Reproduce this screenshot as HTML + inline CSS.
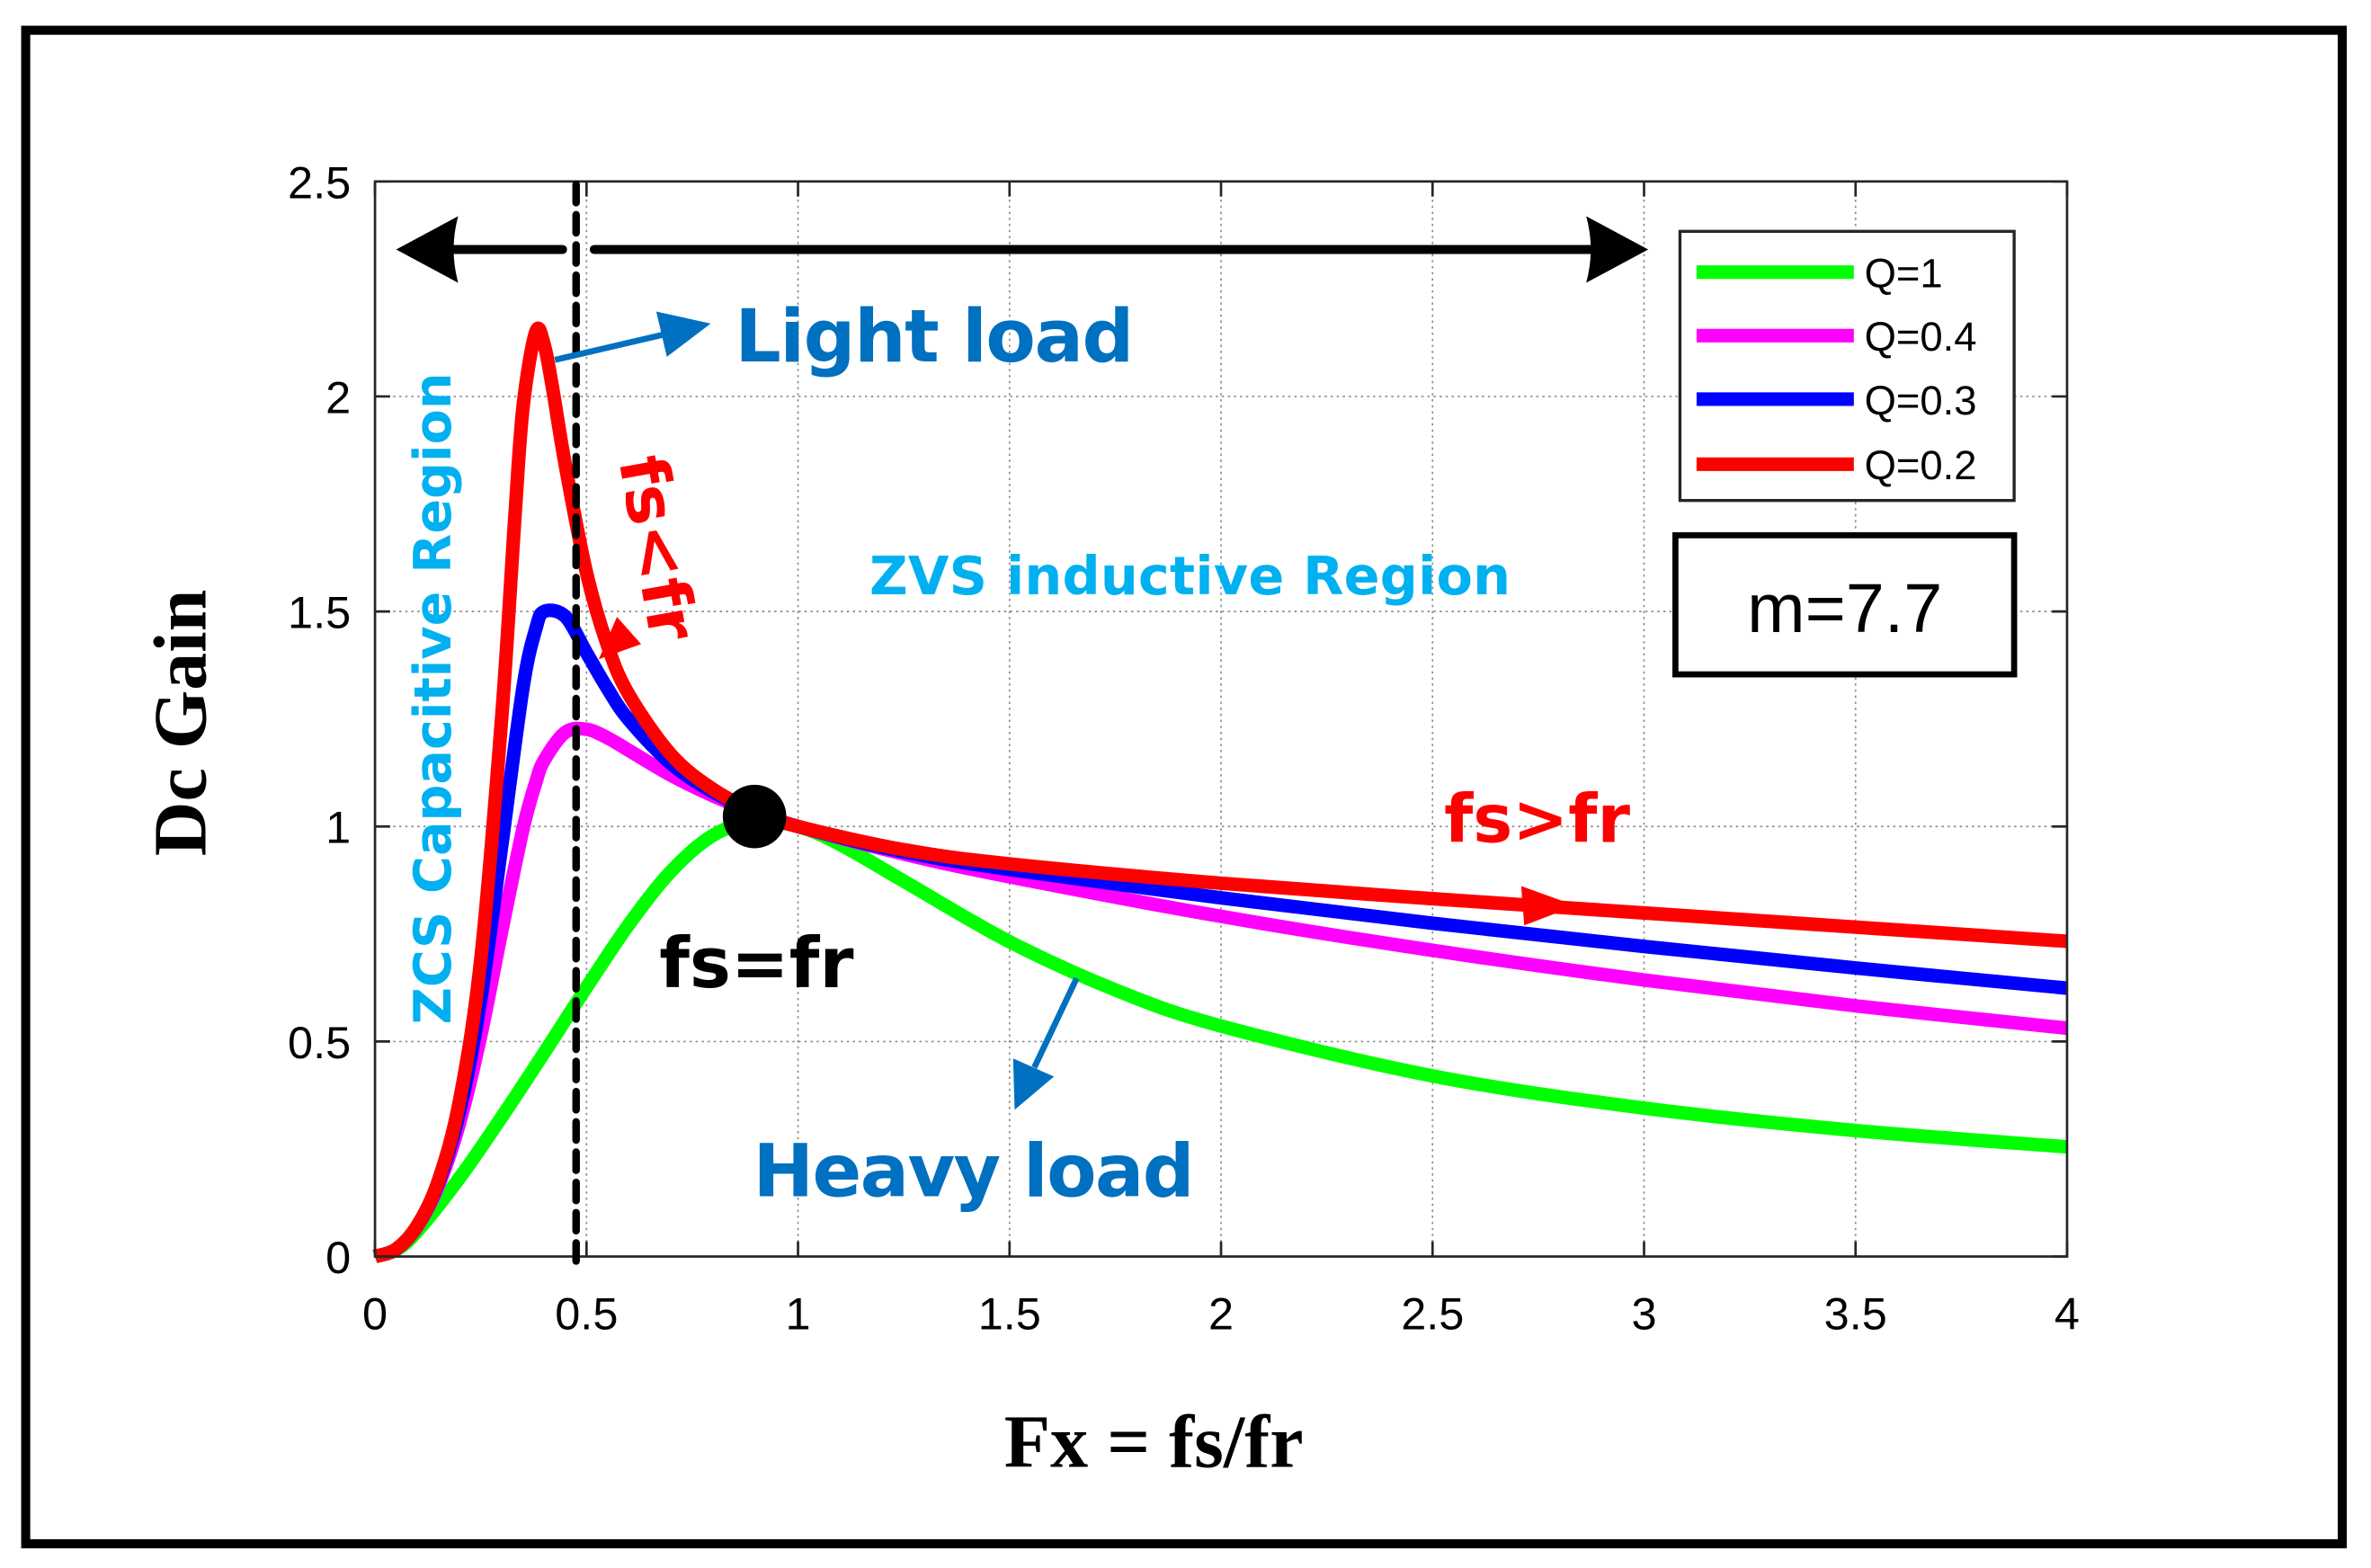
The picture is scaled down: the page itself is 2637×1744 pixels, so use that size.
<!DOCTYPE html>
<html><head><meta charset="utf-8"><style>
html,body{margin:0;padding:0;background:#fff}
svg{display:block}
</style></head><body>
<svg id="chart" width="2637" height="1744" viewBox="0 0 1568 1037" xmlns="http://www.w3.org/2000/svg">
<rect x="17" y="20" width="1532" height="1001" fill="#fff" stroke="#000" stroke-width="6"/>
<g id="grid"></g>
<g id="curves"></g>
<rect x="248" y="120" width="1119" height="711" fill="none" stroke="#262626" stroke-width="1.6"/>
<g id="ticks"></g>
<text transform="translate(136,478) rotate(-90)" text-anchor="middle" font-family="Liberation Serif, serif" font-weight="bold" font-size="50">Dc Gain</text>
<text x="763" y="970" text-anchor="middle" font-family="Liberation Serif, serif" font-weight="bold" font-size="50">Fx = fs/fr</text>
<line x1="381" y1="122" x2="381" y2="840" stroke="#000" stroke-width="5" stroke-dasharray="12,8" stroke-linecap="round"/>
<g>
<line x1="372" y1="165" x2="290" y2="165" stroke="#000" stroke-width="6" stroke-linecap="round"/>
<path d="M262,165 L303,143 Q297,165 303,187 Z" fill="#000"/>
<line x1="393" y1="165" x2="1062" y2="165" stroke="#000" stroke-width="6" stroke-linecap="round"/>
<path d="M1090,165 L1049,143 Q1055,165 1049,187 Z" fill="#000"/>
</g>
<g>
<rect x="1111" y="153" width="221" height="178" fill="#fff" stroke="#262626" stroke-width="2"/>
<line x1="1122" y1="180" x2="1226" y2="180" stroke="#00ff00" stroke-width="9"/>
<line x1="1122" y1="222" x2="1226" y2="222" stroke="#ff00ff" stroke-width="9"/>
<line x1="1122" y1="264" x2="1226" y2="264" stroke="#0000ff" stroke-width="9"/>
<line x1="1122" y1="307" x2="1226" y2="307" stroke="#ff0000" stroke-width="9"/>
<g font-family="Liberation Sans, sans-serif" font-size="27">
<text x="1233" y="190">Q=1</text>
<text x="1233" y="232">Q=0.4</text>
<text x="1233" y="274">Q=0.3</text>
<text x="1233" y="317">Q=0.2</text>
</g></g>
<g>
<rect x="1108" y="354" width="224" height="92" fill="#fff" stroke="#000" stroke-width="4"/>
<text x="1220" y="418" text-anchor="middle" font-family="Liberation Sans, sans-serif" font-size="46">m=7.7</text>
</g>
<g font-family="DejaVu Sans, sans-serif" font-weight="bold">
<text x="486" y="239" font-size="48" fill="#0070C0" textLength="264">Light load</text>
<text x="498" y="791" font-size="48" fill="#0070C0" textLength="292">Heavy load</text>
<text x="575" y="393" font-size="35" fill="#00B0F0" textLength="424">ZVS inductive Region</text>
<text transform="translate(298,462) rotate(-90)" text-anchor="middle" font-size="34" fill="#00B0F0">ZCS Capacitive Region</text>
<text transform="translate(420,365) rotate(80)" text-anchor="middle" font-size="44" fill="#ff0000">fs&lt;fr</text>
<text x="955" y="557" font-size="44" fill="#ff0000">fs&gt;fr</text>
<text x="436" y="653" font-size="46" fill="#000">fs=fr</text>
</g>
<g>
<line x1="367" y1="238" x2="440" y2="221" stroke="#0070C0" stroke-width="4"/>
<path d="M470,214 L434,206 L441,236 Z" fill="#0070C0"/>
<line x1="712" y1="647" x2="684" y2="706" stroke="#0070C0" stroke-width="4"/>
<path d="M671,734 L670,700 L697,712 Z" fill="#0070C0"/>
</g>
<path d="M408,408 L396,436 L424,426 Z" fill="#ff0000"/>
<path d="M1042,599 L1006,586 L1008,612 Z" fill="#ff0000"/>
<circle cx="499" cy="540" r="21" fill="#000"/>
</svg>
<script>
const xTicks=[0,0.5,1,1.5,2,2.5,3,3.5,4];
const yTicks=[0,0.5,1,1.5,2,2.5];
const xTickLabels=["0","0.5","1","1.5","2","2.5","3","3.5","4"];
const yTickLabels=["0","0.5","1","1.5","2","2.5"];
const fxQ02=[0,0.05,0.1,0.15,0.2,0.25,0.3,0.33,0.35,0.38,0.4,0.42,0.45,0.5,0.55,0.6,0.7,0.8,0.9,1,1.25,1.5,2,2.5,3,3.5,4];
const gainQ02=[0,0.017,0.072,0.177,0.363,0.69,1.26,1.71,1.976,2.15,2.12,2.018,1.84,1.59,1.42,1.307,1.167,1.086,1.035,1,0.946,0.913,0.868,0.832,0.799,0.766,0.733];
const fxQ=[0,0.05,0.1,0.15,0.2,0.25,0.3,0.35,0.38,0.4,0.45,0.5,0.55,0.6,0.7,0.8,0.9,1,1.25,1.5,2,2.5,3,3.5,4];
const gainQ03=[0,0.017,0.071,0.172,0.338,0.598,0.959,1.324,1.459,1.50,1.488,1.404,1.320,1.248,1.146,1.080,1.034,1,0.941,0.900,0.834,0.775,0.721,0.671,0.624];
const gainQ04=[0,0.017,0.070,0.165,0.311,0.514,0.759,0.995,1.102,1.154,1.219,1.226,1.206,1.177,1.119,1.071,1.032,1,0.936,0.883,0.791,0.712,0.643,0.583,0.531];
const fxQ1=[0,0.05,0.1,0.2,0.3,0.4,0.5,0.6,0.7,0.8,0.9,1,1.1,1.25,1.5,1.75,2,2.5,3,3.5,4];
const gainQ1=[0,0.015,0.059,0.183,0.325,0.474,0.626,0.772,0.896,0.980,1.012,1,0.958,0.873,0.732,0.620,0.536,0.420,0.345,0.293,0.255];
const NS='http://www.w3.org/2000/svg';
const X0=248,X1=1367,Y0=831,Y1=120;
function sx(v){return X0+(X1-X0)*v/4;}
function sy(v){return Y0-(Y0-Y1)*v/2.5;}
const grid=document.getElementById('grid'),ticks=document.getElementById('ticks'),curves=document.getElementById('curves');
function mk(tag,attrs,parent){const e=document.createElementNS(NS,tag);for(const k in attrs)e.setAttribute(k,attrs[k]);parent.appendChild(e);return e;}
xTicks.forEach((v,i)=>{
  const x=sx(v);
  if(i>0&&i<xTicks.length-1){const g=mk('line',{x1:x,y1:Y1,x2:x,y2:Y0,stroke:'#8c8c8c','stroke-width':1,'stroke-dasharray':'1.5,2.5'},grid);
  
  }
  const t1=mk('line',{x1:x,y1:Y0,x2:x,y2:Y0-10,stroke:'#262626','stroke-width':1.6},ticks);
  
  
  const t2=mk('line',{x1:x,y1:Y1,x2:x,y2:Y1+10,stroke:'#262626','stroke-width':1.6},ticks);
  
  
  const l=mk('text',{x:x,y:879,'text-anchor':'middle','font-family':'Liberation Sans, sans-serif','font-size':30},ticks);
  l.textContent=xTickLabels[i];
  
  
});
yTicks.forEach((v,i)=>{
  const y=sy(v);
  if(i>0&&i<yTicks.length-1){const g=mk('line',{x1:X0,y1:y,x2:X1,y2:y,stroke:'#8c8c8c','stroke-width':1,'stroke-dasharray':'1.5,2.5'},grid);
  
  }
  const t1=mk('line',{x1:X0,y1:y,x2:X0+10,y2:y,stroke:'#262626','stroke-width':1.6},ticks);
  
  
  const t2=mk('line',{x1:X1,y1:y,x2:X1-10,y2:y,stroke:'#262626','stroke-width':1.6},ticks);
  
  
  const l=mk('text',{x:232,y:y+11,'text-anchor':'end','font-family':'Liberation Sans, sans-serif','font-size':30},ticks);
  l.textContent=yTickLabels[i];
  
  
});
function pathFor(xs,ys){
  const p=xs.map((v,i)=>[sx(v),sy(ys[i])]);
  let d='M'+p[0][0]+','+p[0][1];
  for(let i=0;i<p.length-1;i++){
    const a=p[Math.max(0,i-1)],b=p[i],c=p[i+1],e=p[Math.min(p.length-1,i+2)];
    const c1=[b[0]+(c[0]-a[0])/6,b[1]+(c[1]-a[1])/6],c2=[c[0]-(e[0]-b[0])/6,c[1]-(e[1]-b[1])/6];
    d+=' C'+c1[0]+','+c1[1]+' '+c2[0]+','+c2[1]+' '+c[0]+','+c[1];
  }
  return d;
}
const c1=mk('path',{d:pathFor(fxQ1,gainQ1),fill:'none',stroke:'#00ff00','stroke-width':9,'stroke-linejoin':'round'},curves);


const c4=mk('path',{d:pathFor(fxQ,gainQ04),fill:'none',stroke:'#ff00ff','stroke-width':9,'stroke-linejoin':'round'},curves);


const c3=mk('path',{d:pathFor(fxQ,gainQ03),fill:'none',stroke:'#0000ff','stroke-width':9,'stroke-linejoin':'round'},curves);


const c2=mk('path',{d:pathFor(fxQ02,gainQ02),fill:'none',stroke:'#ff0000','stroke-width':9,'stroke-linejoin':'round'},curves);


</script>
</body></html>
